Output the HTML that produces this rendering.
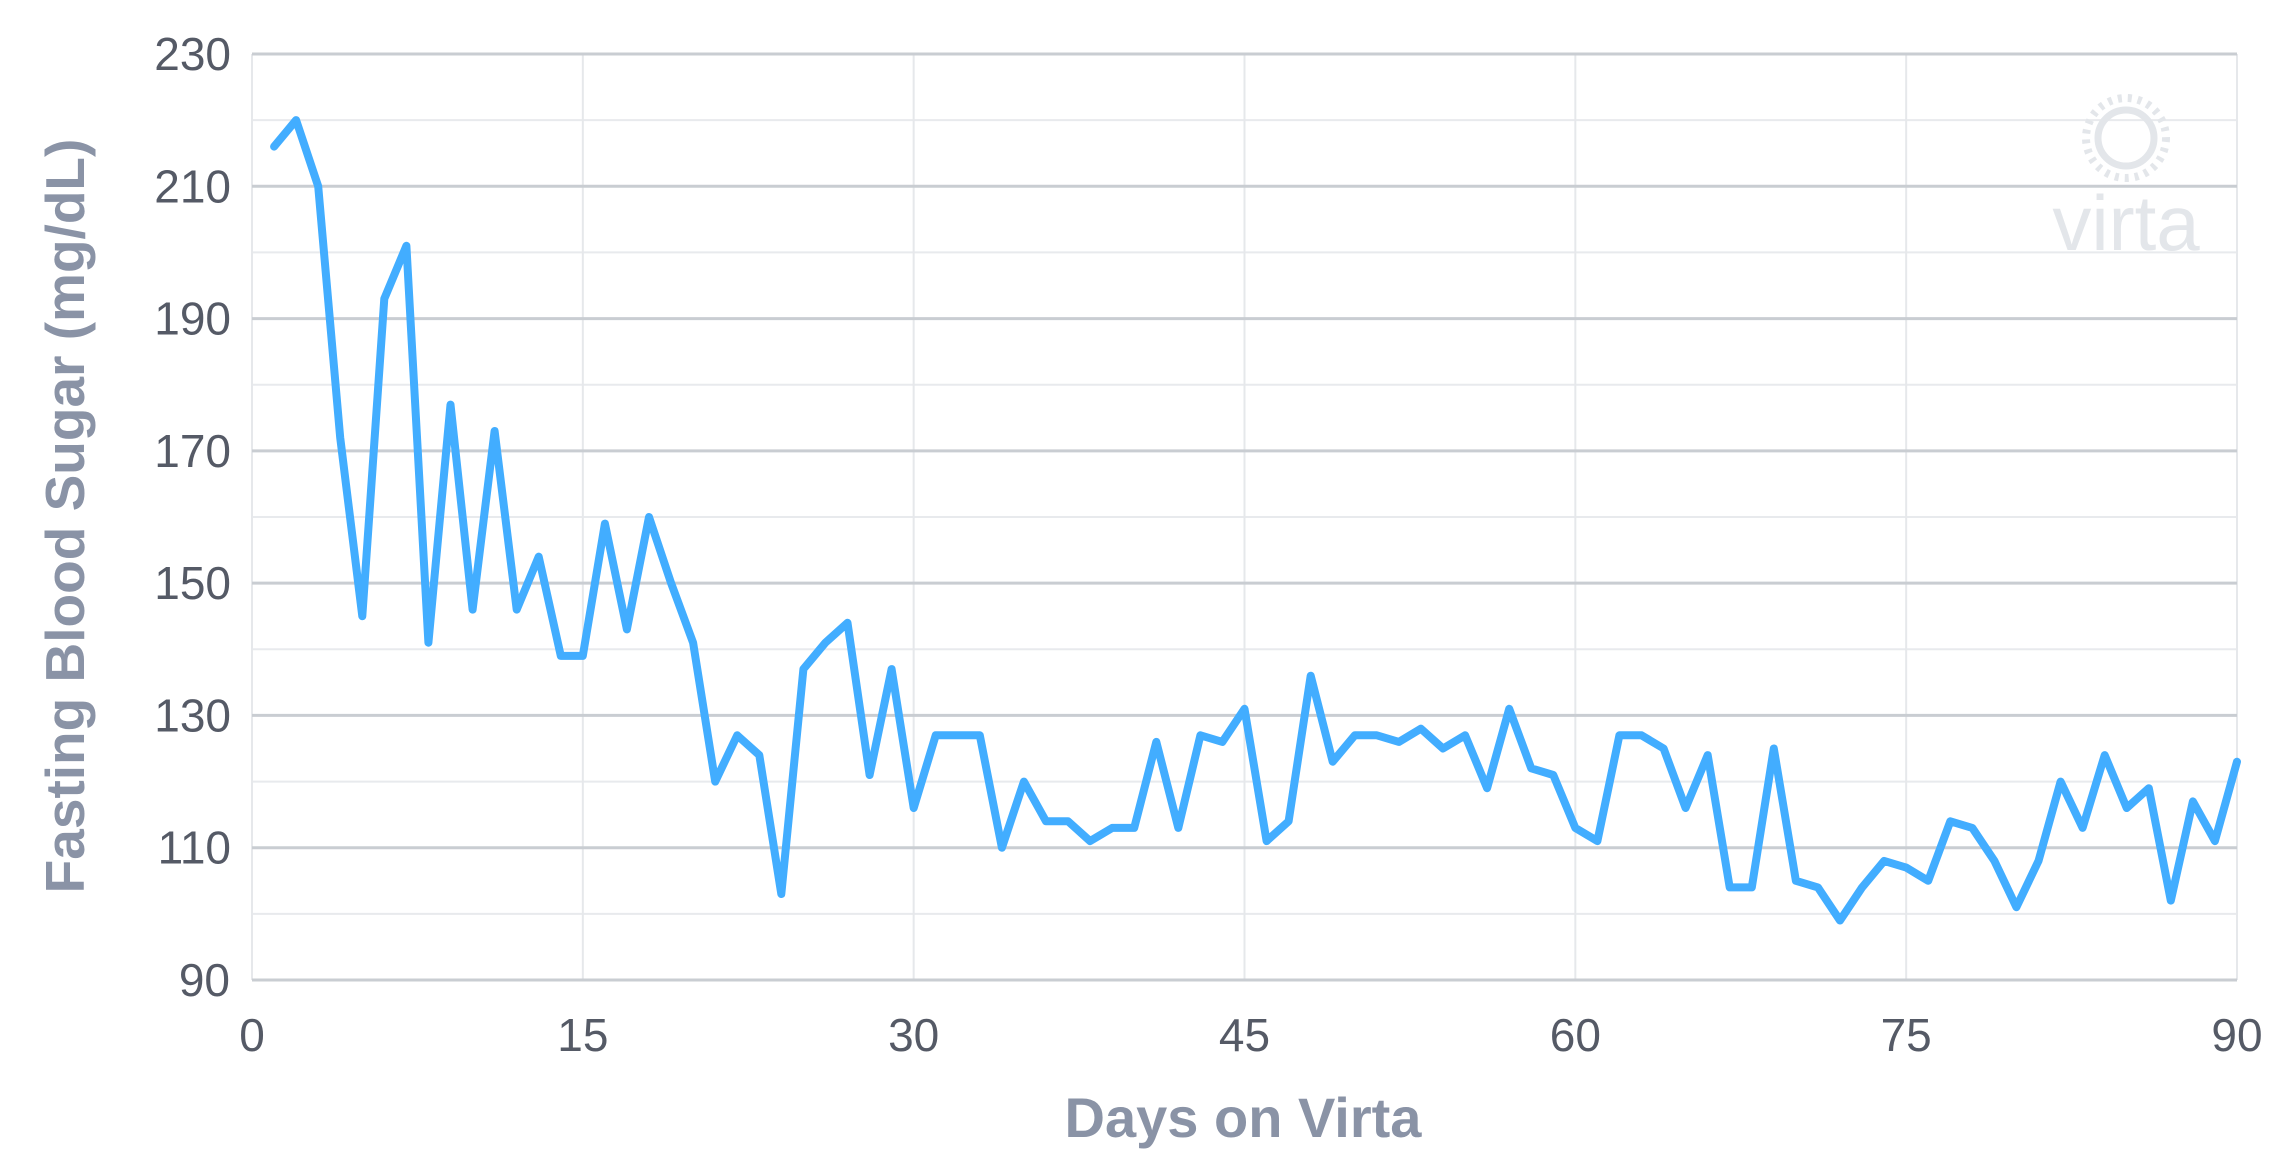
<!DOCTYPE html>
<html><head><meta charset="utf-8"><style>
html,body{margin:0;padding:0;background:#fff;}
svg{display:block;font-family:"Liberation Sans",sans-serif;}
</style></head><body>
<svg id="chart" width="2280" height="1173" viewBox="0 0 2280 1173" xmlns="http://www.w3.org/2000/svg">
<g id="grid"></g>
<g id="yticks"></g>
<g id="xticks"></g>
<g fill="none" stroke="#e3e6ea">
<circle cx="2126" cy="138" r="28" stroke-width="7"/>
<circle cx="2126" cy="138" r="40" stroke-width="8" stroke-dasharray="4 6"/>
</g>
<text x="2126" y="250" text-anchor="middle" font-size="78" fill="#e3e6ea">virta</text>
<path id="line" fill="none" stroke="#42adff" stroke-width="8" stroke-linejoin="round" stroke-linecap="round"/>
<text x="1243" y="1137" text-anchor="middle" font-size="56" font-weight="bold" fill="#8a93a6">Days on Virta</text>
<text transform="translate(84,516) rotate(-90)" text-anchor="middle" font-size="55" font-weight="bold" fill="#8a93a6">Fasting Blood Sugar (mg/dL)</text>
</svg>
<script>
const days = [];
for (let d = 1; d <= 90; d++) days.push(d);
const values = [216,220,210,172,145,193,201,141,177,146,173,146,154,139,139,159,143,160,150,141,120,127,124,103,137,141,144,121,137,116,127,127,127,110,120,114,114,111,113,113,126,113,127,126,131,111,114,136,123,127,127,126,128,125,127,119,131,122,121,113,111,127,127,125,116,124,104,104,125,105,104,99,104,108,107,105,114,113,108,101,108,120,113,124,116,119,102,117,111,123];
const yTicks = [90,110,130,150,170,190,210,230];
const yMinor = [100,120,140,160,180,200,220];
const xTicks = [0,15,30,45,60,75,90];

const L=252,R=2237,T=54,B=980;
const xs = d => L + d/90*(R-L);
const ys = v => B - (v-90)/140*(B-T);
const NS="http://www.w3.org/2000/svg";
const grid=document.getElementById('grid');
function ln(x1,y1,x2,y2,c,w,name){
  const l=document.createElementNS(NS,'line');
  l.setAttribute('x1',x1);l.setAttribute('y1',y1);l.setAttribute('x2',x2);l.setAttribute('y2',y2);
  l.setAttribute('stroke',c);l.setAttribute('stroke-width',w);
  
  
  grid.appendChild(l);
}
yMinor.forEach(v=>ln(L,ys(v),R,ys(v),'#e8eaed',2,'minor-gridline'));
xTicks.forEach(d=>ln(xs(d),T,xs(d),B,'#e6e8eb',2,'vertical-gridline'));
yTicks.forEach(v=>ln(L,ys(v),R,ys(v),'#c9cdd2',3,'major-gridline'));
const yg=document.getElementById('yticks');
yTicks.forEach(v=>{
  const t=document.createElementNS(NS,'text');
  t.setAttribute('x',v===90?230:231);t.setAttribute('y',ys(v)+16);
  t.setAttribute('text-anchor','end');t.setAttribute('font-size','46');t.setAttribute('fill','#555a66');
  
  
  t.textContent=v;yg.appendChild(t);
});
const xg=document.getElementById('xticks');
xTicks.forEach(d=>{
  const t=document.createElementNS(NS,'text');
  t.setAttribute('x',xs(d));t.setAttribute('y',1051);
  t.setAttribute('text-anchor','middle');t.setAttribute('font-size','46');t.setAttribute('fill','#555a66');
  
  
  t.textContent=d;xg.appendChild(t);
});
document.getElementById('line').setAttribute('d',values.map((v,i)=>(i?'L':'M')+xs(days[i]).toFixed(1)+' '+ys(v).toFixed(1)).join(' '));
</script>
</body></html>
